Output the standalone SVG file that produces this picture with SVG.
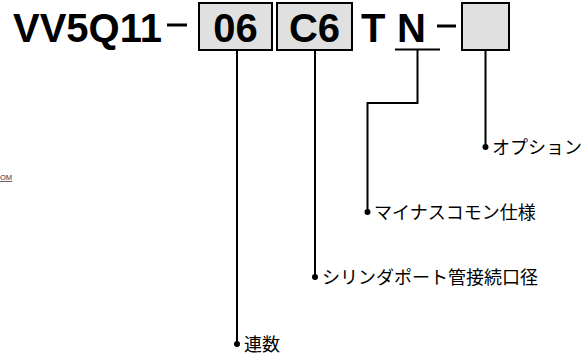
<svg xmlns="http://www.w3.org/2000/svg" width="587" height="356" viewBox="0 0 587 356">
<style>
.code{font-family:"Liberation Sans",Arial,sans-serif;font-weight:bold;font-size:40px;fill:#000}
.box{fill:#e0e0e0;stroke:#000;stroke-width:2}
.lbl{font-family:"Noto Sans CJK JP",sans-serif;font-size:18px;fill:#000}
.conn{fill:none;stroke:#000;stroke-width:2}
.dot{fill:#000}
.dash{stroke:#000;stroke-width:3}
</style>
<rect width="587" height="356" fill="#fff"/>
<g id="model">
<text class="code" x="13" y="42">VV5Q11</text>
<line class="dash" x1="167" y1="25" x2="187" y2="25"/>
</g>
<g id="box-06">
<rect class="box" x="199" y="3" width="73" height="47"/>
<text class="code" x="235.5" y="42" text-anchor="middle">06</text>
</g>
<g id="box-c6">
<rect class="box" x="277" y="3" width="75" height="47"/>
<text class="code" x="314.5" y="42" text-anchor="middle">C6</text>
</g>
<g id="code-t">
<text class="code" x="361" y="42">T</text>
</g>
<g id="code-n">
<text class="code" x="397" y="42">N</text>
<line x1="395" y1="49.5" x2="440" y2="49.5" stroke="#000" stroke-width="2"/>
<line class="dash" x1="437" y1="26" x2="456" y2="26"/>
</g>
<g id="box-option">
<rect class="box" x="462" y="3" width="47" height="47"/>
</g>
<g id="connectors">
<polyline class="conn" points="237,50 237,344"/>
<circle class="dot" cx="237" cy="344" r="3"/>
<polyline class="conn" points="315,50 315,277"/>
<circle class="dot" cx="315" cy="277" r="3"/>
<polyline class="conn" points="417.5,50 417.5,103 367.5,103 367.5,212"/>
<circle class="dot" cx="367.5" cy="212" r="3"/>
<polyline class="conn" points="485.5,50 485.5,147"/>
<circle class="dot" cx="485.5" cy="147" r="3"/>
</g>
<g id="label-rensu"><text class="lbl" x="244" y="351">連数</text></g>
<g id="label-cylinder"><text class="lbl" x="322" y="284">シリンダポート管接続口径</text></g>
<g id="label-minus"><text class="lbl" x="374" y="219">マイナスコモン仕様</text></g>
<g id="label-option"><text class="lbl" x="492" y="154">オプション</text></g>
<g id="stray"><text x="0" y="180" font-family="Liberation Sans,Arial,sans-serif" font-size="7.5" fill="#333" text-decoration="underline">OM</text></g>
</svg>
